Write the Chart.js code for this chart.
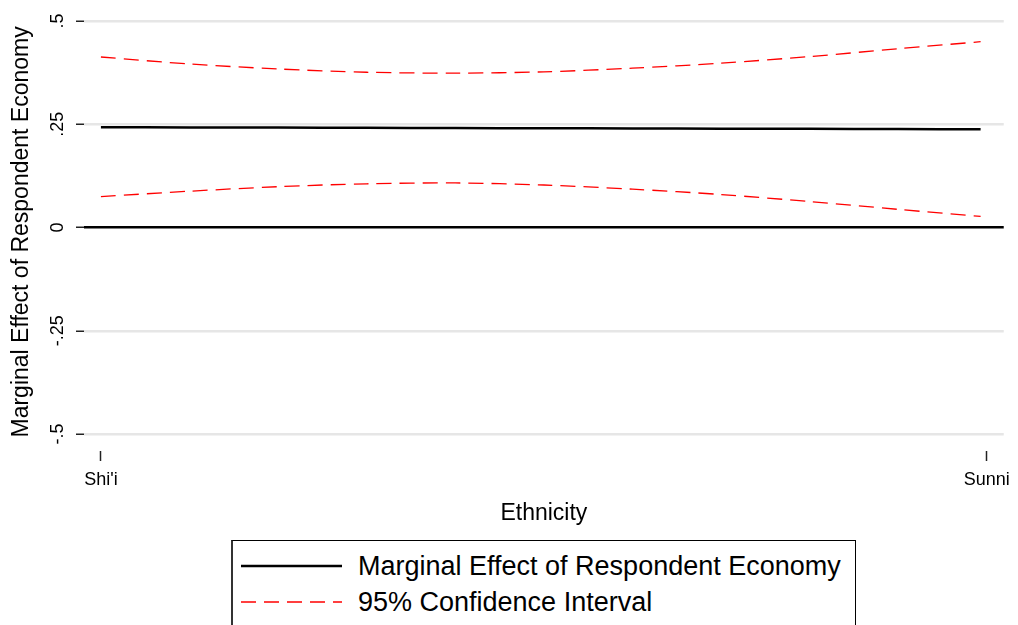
<!DOCTYPE html>
<html>
<head>
<meta charset="utf-8">
<script src="https://cdn.jsdelivr.net/npm/chart.js@4/dist/chart.umd.min.js"></script>
<style>
  html, body { margin: 0; padding: 0; background: #fff; overflow: hidden; }
  #wrap { position: relative; width: 1018px; height: 625px; }
  #c { position: absolute; left: 0; top: 0; }
  #legend {
    position: absolute; left: 231px; top: 540px; width: 625px; height: 130px;
    border: 1px solid #000; border-left: 2px solid #333; background: #fff;
    font-family: "Liberation Sans", Arial, sans-serif; font-size: 27px; color: #000;
    padding: 7px 0 0 8px; box-sizing: border-box;
  }
  .item { display: flex; align-items: center; height: 36px; white-space: nowrap; }
  .item svg { width: 101px; height: 10px; margin-right: 16px; flex: none; }
</style>
</head>
<body>
<div id="wrap">
  <canvas id="c" width="1018" height="625"></canvas>
  <div id="legend"></div>
</div>
<script>
// ---- data ----
const xValues      = [0, 0.1, 0.2, 0.3, 0.4, 0.5, 0.6, 0.7, 0.8, 0.9, 0.993];
const effectValues = [0.243, 0.2425, 0.242, 0.2415, 0.241, 0.2405, 0.240, 0.2395, 0.239, 0.2385, 0.238];
const upperValues  = [0.413, 0.396, 0.384, 0.376, 0.374, 0.377, 0.386, 0.398, 0.414, 0.433, 0.450];
const lowerValues  = [0.075, 0.088, 0.099, 0.106, 0.108, 0.103, 0.093, 0.080, 0.063, 0.044, 0.027];
const xTickValues  = [0, 1];
const xTickLabels  = ["Shi'i", "Sunni"];
const yTickValues  = [-0.5, -0.25, 0, 0.25, 0.5];
const yTickLabels  = ["-.5", "-.25", "0", ".25", ".5"];
const seriesLabels = ["Marginal Effect of Respondent Economy", "95% Confidence Interval"];
const xTitle = "Ethnicity";
const yTitle = "Marginal Effect of Respondent Economy";

const FONT = '"Liberation Sans", Arial, sans-serif';
const pts = (ys) => xValues.map((x, i) => ({x: x, y: ys[i]}));

const chart = new Chart(document.getElementById('c'), {
  type: 'line',
  data: {
    datasets: [
      { label: seriesLabels[0], data: pts(effectValues), borderColor: '#000', borderWidth: 2.5,
        pointRadius: 0, tension: 0.3, legendSample: true },
      { label: seriesLabels[1], data: pts(upperValues), borderColor: '#ff0000', borderWidth: 1.3,
        borderDash: [15, 8], pointRadius: 0, tension: 0.3, legendSample: true },
      { label: seriesLabels[1], data: pts(lowerValues), borderColor: '#ff0000', borderWidth: 1.3,
        borderDash: [15, 8], pointRadius: 0, tension: 0.3, legendSample: false }
    ]
  },
  options: {
    responsive: false,
    animation: false,
    devicePixelRatio: 1,
    layout: { padding: { top: 10, left: 0, right: 9, bottom: 98 } },
    plugins: { legend: { display: false }, tooltip: { enabled: false } },
    scales: {
      x: {
        type: 'linear', min: -0.0191, max: 1.0191,
        afterBuildTicks: (s) => { s.ticks = xTickValues.map(v => ({value: v})); },
        afterFit: (s) => { s.height = 76; },
        border: { display: false },
        grid: { drawOnChartArea: false, drawTicks: true, tickLength: 10, tickColor: '#222', tickWidth: 1.5 },
        ticks: {
          autoSkip: false, maxRotation: 0, minRotation: 0, padding: 8, color: '#000',
          font: { family: FONT, size: 18 },
          callback: (v) => { const i = xTickValues.indexOf(v); return i >= 0 ? xTickLabels[i] : ''; }
        },
        title: { display: true, text: xTitle, color: '#000', font: { family: FONT, size: 23 },
                 padding: { top: 0, bottom: 0 } }
      },
      y: {
        type: 'linear', min: -0.541, max: 0.52,
        afterBuildTicks: (s) => { s.ticks = yTickValues.map(v => ({value: v})); },
        afterFit: (s) => { s.width = 84; },
        border: { display: false },
        grid: {
          drawTicks: true, tickLength: 8, tickWidth: 1.5,
          color: (ctx) => (ctx.tick && ctx.tick.value === 0) ? '#000' : '#e6e6e6',
          lineWidth: 2.5,
          tickColor: '#222'
        },
        ticks: {
          autoSkip: false, minRotation: 90, maxRotation: 90, crossAlign: 'center', padding: 2,
          color: '#000', font: { family: FONT, size: 18 },
          callback: (v) => { const i = yTickValues.indexOf(v); return i >= 0 ? yTickLabels[i] : ''; }
        },
        title: { display: true, text: yTitle, color: '#000', font: { family: FONT, size: 23 },
                 padding: { top: 8, bottom: 0 } }
      }
    }
  }
});

// HTML legend built from the chart's datasets
const legendEl = document.getElementById('legend');
chart.data.datasets.forEach((ds) => {
  if (!ds.legendSample) return;
  const item = document.createElement('div');
  item.className = 'item';
  const ns = 'http://www.w3.org/2000/svg';
  const svg = document.createElementNS(ns, 'svg');
  svg.setAttribute('viewBox', '0 0 101 10');
  const ln = document.createElementNS(ns, 'line');
  ln.setAttribute('x1', '0'); ln.setAttribute('x2', '101');
  ln.setAttribute('y1', '5'); ln.setAttribute('y2', '5');
  ln.setAttribute('stroke', ds.borderColor);
  ln.setAttribute('stroke-width', ds.borderWidth);
  if (ds.borderDash) ln.setAttribute('stroke-dasharray', ds.borderDash.join(' '));
  svg.appendChild(ln);
  const span = document.createElement('span');
  span.textContent = ds.label;
  item.appendChild(svg);
  item.appendChild(span);
  legendEl.appendChild(item);
});
</script>
</body>
</html>
